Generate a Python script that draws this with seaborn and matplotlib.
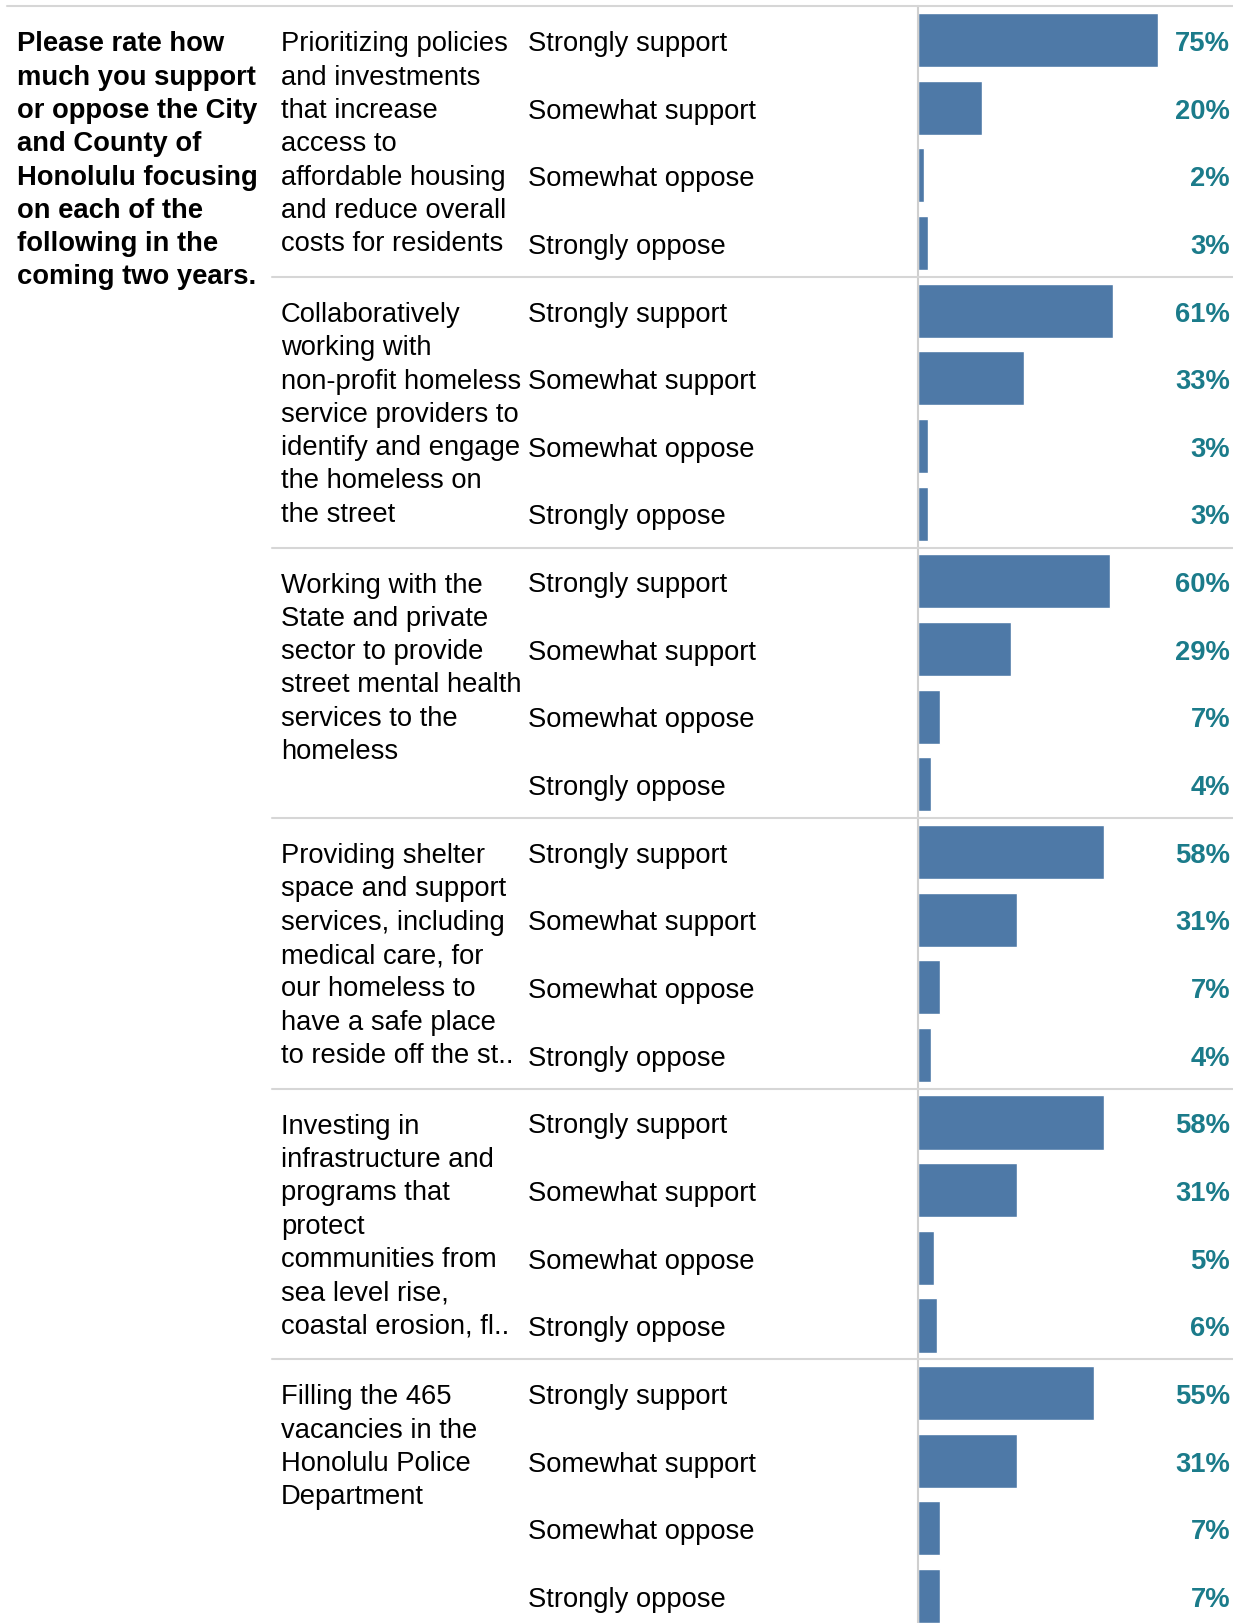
import matplotlib
matplotlib.use("Agg")
import matplotlib.pyplot as plt
import matplotlib.transforms as mtransforms
import seaborn as sns
import pandas as pd

# data
question = "Please rate how\nmuch you support\nor oppose the City\nand County of\nHonolulu focusing\non each of the\nfollowing in the\ncoming two years."
topics = [
    "Prioritizing policies\nand investments\nthat increase\naccess to\naffordable housing\nand reduce overall\ncosts for residents",
    "Collaboratively\nworking with\nnon-profit homeless\nservice providers to\nidentify and engage\nthe homeless on\nthe street",
    "Working with the\nState and private\nsector to provide\nstreet mental health\nservices to the\nhomeless",
    "Providing shelter\nspace and support\nservices, including\nmedical care, for\nour homeless to\nhave a safe place\nto reside off the st..",
    "Investing in\ninfrastructure and\nprograms that\nprotect\ncommunities from\nsea level rise,\ncoastal erosion, fl..",
    "Filling the 465\nvacancies in the\nHonolulu Police\nDepartment",
]
responses = ["Strongly support", "Somewhat support", "Somewhat oppose", "Strongly oppose"]
pct_housing = [75, 20, 2, 3]
pct_homeless_outreach = [61, 33, 3, 3]
pct_mental_health = [60, 29, 7, 4]
pct_shelter = [58, 31, 7, 4]
pct_sea_level = [58, 31, 5, 6]
pct_police = [55, 31, 7, 7]
all_pct = [pct_housing, pct_homeless_outreach, pct_mental_health,
           pct_shelter, pct_sea_level, pct_police]

rows = []
for g, vals in enumerate(all_pct):
    for r, v in enumerate(vals):
        rows.append({"row": g * 4 + r, "group": g, "response": responses[r], "pct": v})
df = pd.DataFrame(rows)

W, H = 1233, 1624
ROW = 67.65
TOP = 7.3
AX_X = 918
PX_PER_PCT = 3.2

sns.set_style("white")
plt.rcParams["font.family"] = ["Liberation Sans", "DejaVu Sans"]

fig = plt.figure(figsize=(W / 100, H / 100), dpi=100)
ax = fig.add_axes([AX_X / W, 0, (W - AX_X) / W, (H - TOP) / H])

sns.barplot(data=df, y="row", x="pct", orient="h", color="#4e79a7",
            saturation=1, width=0.8, ax=ax)

ax.set_ylim(-0.5 + (H - TOP) / ROW, -0.5)
ax.set_xlim(0, (W - AX_X) / PX_PER_PCT)
ax.set_xticks([])
ax.set_yticks([])
ax.set_xlabel("")
ax.set_ylabel("")
for s in ax.spines.values():
    s.set_visible(False)
ax.axvline(0, color="#cfcfcf", lw=1.5, clip_on=False)

tr = mtransforms.blended_transform_factory(fig.transFigure, ax.transData)
fs = 19.7
half_cap = 0.145   # half the cap height, in rows
ls = 1.365

# separators
ax.plot([7 / W, 1], [-0.5, -0.5], transform=tr, color="#d6d6d6", lw=1.5, clip_on=False)
for g in range(1, len(all_pct)):
    ax.plot([272 / W, 1], [g * 4 - 0.5] * 2, transform=tr, color="#d6d6d6", lw=1.5, clip_on=False)

ax.text(17 / W, -half_cap, question, transform=tr, fontsize=fs, fontweight="bold",
        va="top", ha="left", linespacing=ls, color="black")

for g, t in enumerate(topics):
    ax.text(281 / W, g * 4 - half_cap, t, transform=tr, fontsize=fs,
            va="top", ha="left", linespacing=ls, color="black")

for _, rw in df.iterrows():
    ax.text(527.5 / W, rw["row"] + half_cap, rw["response"], transform=tr, fontsize=fs,
            va="baseline", ha="left", color="black")
    ax.text(1230 / W, rw["row"] + half_cap, f"{rw['pct']}%", transform=tr, fontsize=fs,
            fontweight="bold", va="baseline", ha="right", color="#1b7b8a")

fig.savefig("out.png", dpi=100)
